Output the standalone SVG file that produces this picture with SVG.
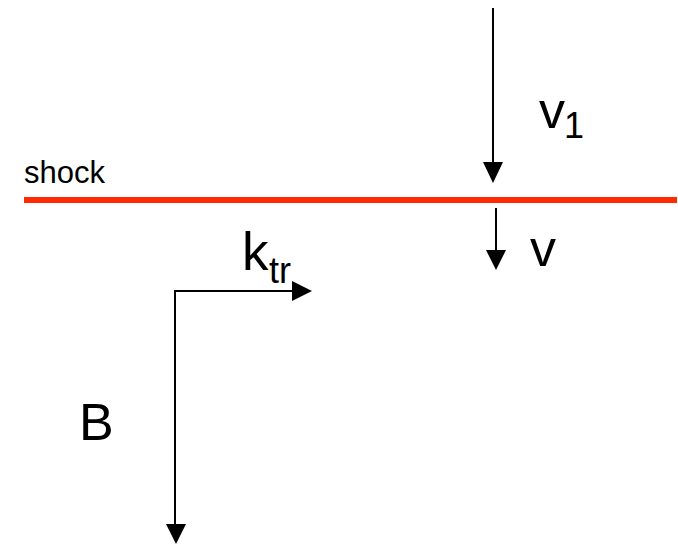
<svg xmlns="http://www.w3.org/2000/svg" width="678" height="546" viewBox="0 0 678 546">
<style>
.t{font-family:"Liberation Sans",Arial,sans-serif;fill:#000}
.ln{stroke:#000;stroke-width:2;fill:none}
.hd{fill:#000}
</style>
<rect width="678" height="546" fill="#fff"/>
<g id="shock">
<line x1="24" y1="200" x2="677" y2="200" stroke="#ff2a00" stroke-width="6"/>
<text class="t" x="24" y="183" font-size="31">shock</text>
</g>
<g id="connectors">
<line class="ln" x1="493" y1="8" x2="493" y2="163"/>
<polygon class="hd" points="483,162 503,162 493,183"/>
<line class="ln" x1="496" y1="208" x2="496" y2="251"/>
<polygon class="hd" points="486,250 506,250 496,270"/>
<polyline class="ln" points="293,291 175,291 175,525"/>
<polygon class="hd" points="292,281 292,301 312,291"/>
<polygon class="hd" points="166,524 186,524 176,544"/>
</g>
<g id="v1">
<text class="t" x="539" y="128" font-size="52">v</text>
<text class="t" x="564" y="138" font-size="36">1</text>
</g>
<g id="v">
<text class="t" x="530" y="266" font-size="52">v</text>
</g>
<g id="ktr">
<text class="t" x="242" y="270" font-size="53">k</text>
<text class="t" x="269" y="283" font-size="36">tr</text>
</g>
<g id="B">
<text class="t" x="79" y="440" font-size="52">B</text>
</g>
</svg>
